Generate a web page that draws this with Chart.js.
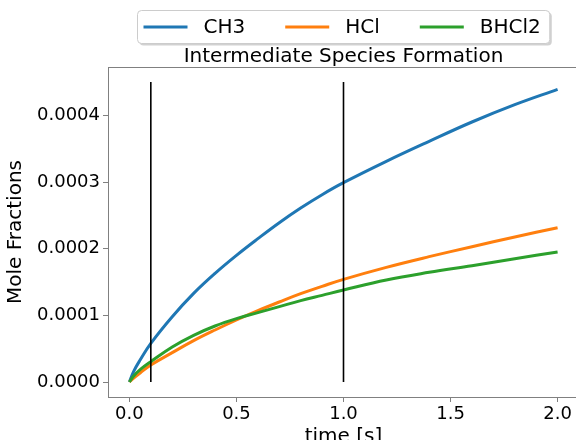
<!DOCTYPE html>
<html>
<head>
<meta charset="utf-8">
<script src="https://cdn.jsdelivr.net/npm/chart.js@4.4.0/dist/chart.umd.min.js"></script>
<style>
  html, body { margin:0; padding:0; overflow:hidden; background:#fff; }
</style>
</head>
<body>
<canvas id="speciesChart" width="600" height="449"></canvas>
<script>
// ===== Data =====
const times = [0, 0.02, 0.05, 0.1, 0.2, 0.3, 0.4, 0.5, 0.6, 0.7, 0.8, 0.9, 1.0, 1.2, 1.4, 1.6, 1.8, 2.0];
const ch3   = [0, 0.16, 0.33, 0.58, 0.98, 1.33, 1.63, 1.90, 2.15, 2.39, 2.61, 2.81, 2.99, 3.31, 3.61, 3.90, 4.16, 4.39];
const hcl   = [0, 0.06, 0.135, 0.255, 0.44, 0.62, 0.78, 0.93, 1.07, 1.20, 1.325, 1.435, 1.54, 1.72, 1.88, 2.03, 2.175, 2.315];
const bhcl2 = [0, 0.09, 0.185, 0.305, 0.525, 0.70, 0.84, 0.95, 1.04, 1.13, 1.22, 1.30, 1.38, 1.53, 1.645, 1.745, 1.85, 1.95];
const scaleFactor = 1e-4;   // values above are in units of 1e-4

const markerTimes = [0.1, 1.0];
const markerTop = 0.00045;

const xTicks = [0, 0.5, 1.0, 1.5, 2.0];
const yTicks = [0, 0.0001, 0.0002, 0.0003, 0.0004];

const seriesNames = ['CH3', 'HCl', 'BHCl2'];
const seriesColors = ['#1f77b4', '#ff7f0e', '#2ca02c'];

const FONT = '"DejaVu Sans", "Liberation Sans", sans-serif';
const SPINE = '#808080';

// ===== Build datasets =====
const toPoints = (vals) => times.map((t, i) => ({x: t, y: vals[i] * scaleFactor}));
const seriesData = [ch3, hcl, bhcl2];

const datasets = seriesData.map((vals, i) => ({
  label: seriesNames[i],
  data: toPoints(vals),
  borderColor: seriesColors[i],
  backgroundColor: seriesColors[i],
  borderWidth: 3,
  pointRadius: 0,
  tension: 0.4,
  order: 3 - i
}));

markerTimes.forEach(t => {
  datasets.push({
    label: 'marker',
    isMarker: true,
    data: [{x: t, y: 0}, {x: t, y: markerTop}],
    borderColor: '#000',
    borderWidth: 1.6,
    pointRadius: 0,
    order: 0
  });
});

// ===== Plugins =====
// top spine (right one falls outside the picture)
const frame = {
  id: 'frame',
  afterDraw(chart) {
    const {ctx, chartArea: a} = chart;
    ctx.save();
    ctx.strokeStyle = SPINE;
    ctx.lineWidth = 1;
    ctx.beginPath();
    ctx.moveTo(a.left, a.top + 0.5);
    ctx.lineTo(a.right, a.top + 0.5);
    ctx.stroke();
    ctx.restore();
  }
};

function roundRect(ctx, x, y, w, h, r) {
  ctx.beginPath();
  ctx.moveTo(x + r, y);
  ctx.lineTo(x + w - r, y);
  ctx.quadraticCurveTo(x + w, y, x + w, y + r);
  ctx.lineTo(x + w, y + h - r);
  ctx.quadraticCurveTo(x + w, y + h, x + w - r, y + h);
  ctx.lineTo(x + r, y + h);
  ctx.quadraticCurveTo(x, y + h, x, y + h - r);
  ctx.lineTo(x, y + r);
  ctx.quadraticCurveTo(x, y, x + r, y);
  ctx.closePath();
}

// matplotlib style legend box above the title
const boxLegend = {
  id: 'boxLegend',
  afterDraw(chart) {
    const ctx = chart.ctx;
    const items = chart.data.datasets.filter(d => !d.isMarker);
    const lineLen = 44, textGap = 16, itemGap = 40, padL = 6, padR = 9;
    ctx.save();
    ctx.font = '20px ' + FONT;
    let total = padL + padR;
    items.forEach((d, i) => {
      total += lineLen + textGap + ctx.measureText(d.label).width + (i ? itemGap : 0);
    });
    const cx = (chart.chartArea.left + chart.chartArea.right) / 2;
    const left = Math.round(cx - total / 2) + 0.5, top = 10.5, h = 33;

    ctx.fillStyle = 'rgba(0,0,0,0.18)';
    roundRect(ctx, left + 2, top + 2, total, h, 4);
    ctx.fill();
    ctx.fillStyle = '#fff';
    roundRect(ctx, left, top, total, h, 4);
    ctx.fill();
    ctx.strokeStyle = '#cccccc';
    ctx.lineWidth = 1;
    ctx.stroke();

    let x = left + padL;
    const cy = top + h / 2;
    ctx.textBaseline = 'middle';
    ctx.textAlign = 'left';
    items.forEach((d) => {
      ctx.strokeStyle = d.borderColor;
      ctx.lineWidth = 3;
      ctx.beginPath();
      ctx.moveTo(x, cy);
      ctx.lineTo(x + lineLen, cy);
      ctx.stroke();
      x += lineLen + textGap;
      ctx.fillStyle = '#000';
      ctx.fillText(d.label, x, cy + 1);
      x += ctx.measureText(d.label).width + itemGap;
    });
    ctx.restore();
  }
};

// ===== Chart =====
const ctx = document.getElementById('speciesChart').getContext('2d');
new Chart(ctx, {
  type: 'line',
  data: {datasets: datasets},
  options: {
    responsive: false,
    animation: false,
    layout: {padding: {left: 0, right: 21, top: 0, bottom: 0}},
    plugins: {
      legend: {display: false},
      tooltip: {enabled: false},
      title: {
        display: true,
        text: 'Intermediate Species Formation',
        fullSize: false,
        color: '#000',
        font: {family: FONT, size: 20, weight: 'normal', lineHeight: 1},
        padding: {top: 47, bottom: 0}
      }
    },
    scales: {
      x: {
        type: 'linear',
        min: -0.1,
        max: 2.1,
        afterBuildTicks: (s) => { s.ticks = xTicks.map(v => ({value: v})); },
        afterFit: (s) => { s.height = 52; },
        ticks: {
          color: '#000',
          font: {family: FONT, size: 18},
          padding: 2,
          maxRotation: 0,
          callback: (v) => v.toFixed(1)
        },
        grid: {display: true, drawOnChartArea: false, drawTicks: true, tickLength: 5, color: SPINE},
        border: {display: true, color: SPINE, width: 1},
        title: {
          display: true,
          text: 'time [s]',
          color: '#000',
          font: {family: FONT, size: 20},
          padding: {top: 0, bottom: 0}
        }
      },
      y: {
        type: 'linear',
        min: -0.0000225,
        max: 0.0004725,
        afterBuildTicks: (s) => { s.ticks = yTicks.map(v => ({value: v})); },
        afterFit: (s) => { s.width = 108; },
        ticks: {
          color: '#000',
          font: {family: FONT, size: 18},
          padding: 3,
          callback: (v) => v.toFixed(4)
        },
        grid: {display: true, drawOnChartArea: false, drawTicks: true, tickLength: 5, color: SPINE},
        border: {display: true, color: SPINE, width: 1},
        title: {
          display: true,
          text: 'Mole Fractions',
          color: '#000',
          font: {family: FONT, size: 20},
          padding: {top: 4, bottom: 4}
        }
      }
    }
  },
  plugins: [frame, boxLegend]
});
</script>
</body>
</html>
